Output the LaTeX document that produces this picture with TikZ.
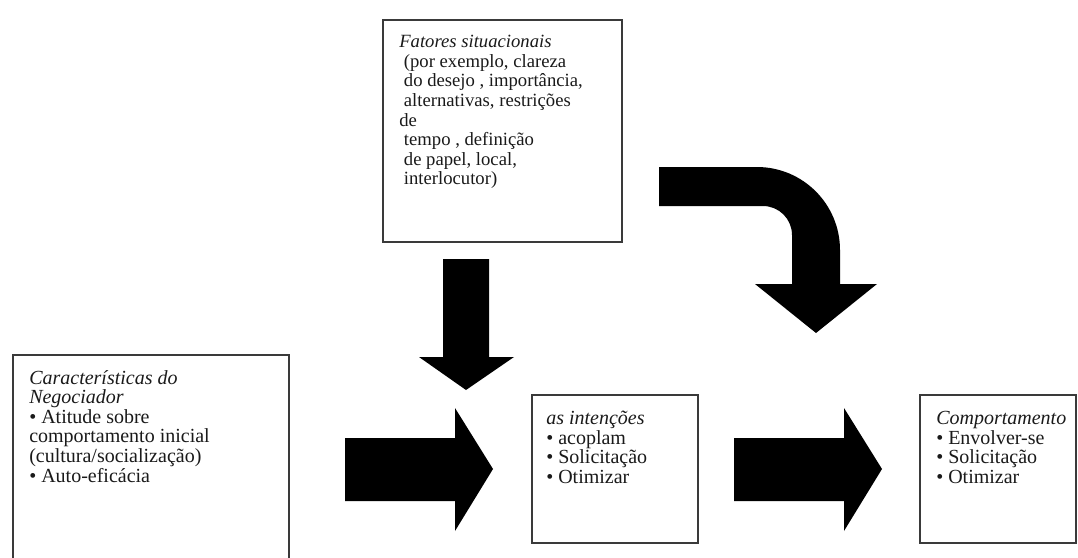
\documentclass[tikz,border=0pt]{standalone}
\usepackage{fontspec}
\setmainfont{Liberation Serif}
\usetikzlibrary{positioning}
\definecolor{Frame}{HTML}{3A3A3A}
\definecolor{Ink}{HTML}{1A1A1A}

\begin{document}
\begin{tikzpicture}[x=0.75pt,y=-0.75pt,
    box/.style={draw=Frame,line width=1.1pt,inner sep=0pt},
    txt/.style={anchor=north west,inner sep=0pt,align=left,text=Ink,font=\fontsize{15}{14.7}\selectfont}]
    \clip (0,0) rectangle (1078,557);
    \fill[white] (0,0) rectangle (1078,557);
    % boxes
    \node[box,minimum width=179.25pt,minimum height=166.5pt] (situ) at (502.5,131) {};
    \node[box,minimum width=207pt,minimum height=183.75pt] (negoc) at (151,477.5) {};
    \node[box,minimum width=124.5pt,minimum height=111pt] (intencoes) at (615,469) {};
    \node[box,minimum width=117pt,minimum height=111pt] (comport) at (998,469) {};
    % texts
    \node[txt,font=\fontsize{14}{14.7}\selectfont] (situtxt) at (399,35) {\textit{Fatores situacionais}\\
      ~(por exemplo, clareza\\ ~do desejo , importância,\\ ~alternativas, restrições\\de\\
      ~tempo , definição\\ ~de papel, local,\\ ~interlocutor)};
    \node[txt] (negoctxt) at (29,370) {\textit{Características do}\\\textit{Negociador}\\
      • Atitude sobre\\comportamento inicial\\(cultura/socialização)\\• Auto-eficácia};
    \node[txt] (intencoestxt) at (546,411) {\textit{as intenções}\\• acoplam\\• Solicitação\\• Otimizar};
    \node[txt] (comporttxt) at (936,411) {\textit{Comportamento}\\• Envolver-se\\• Solicitação\\• Otimizar};
    % block arrows
    \fill[black] (443,259) -- (489,259) -- (489,357) -- (514,357) -- (466,390) -- (419,357) -- (443,357) -- cycle;
    \foreach \x in {345,734}
    {
      \fill[black] (\x,438) -- (\x+110,438) -- (\x+110,408) -- (\x+148,469) -- (\x+110,531) -- (\x+110,501) -- (\x,501) -- cycle;
    }
    \fill[black] (659,167) -- (757,167) arc[start angle=-90,end angle=0,radius=83] -- (840,284) -- (877,284)
      -- (816,333) -- (755,284) -- (792,284) -- (792,235) arc[start angle=0,end angle=-90,radius=29] -- (659,206) -- cycle;
  \end{tikzpicture}
\end{document}
